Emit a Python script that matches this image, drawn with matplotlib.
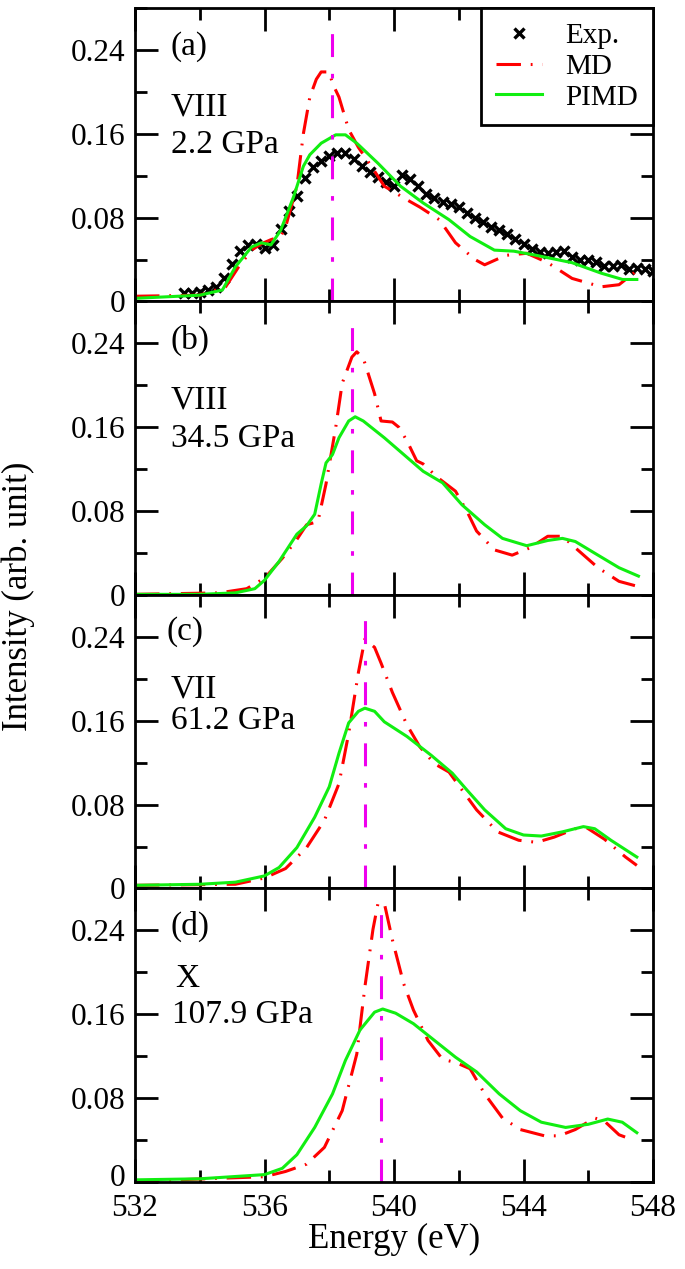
import matplotlib
matplotlib.use('Agg')
import matplotlib.pyplot as plt
import matplotlib.transforms as mtransforms
from matplotlib.ticker import MultipleLocator, FixedLocator, FuncFormatter

plt.rcParams['font.family'] = ['Liberation Serif', 'DejaVu Serif']

# ---- data ----
exp_e = [533.5, 533.75, 534.0, 534.25, 534.5, 534.75, 535.0, 535.25, 535.5, 535.75,
         536.0, 536.25, 536.5, 536.75, 537.0, 537.25, 537.5, 537.75, 538.0, 538.25,
         538.5, 538.75, 539.0, 539.25, 539.5, 539.75, 540.0, 540.25, 540.5, 540.75,
         541.0, 541.25, 541.5, 541.75, 542.0, 542.25, 542.5, 542.75, 543.0, 543.25,
         543.5, 543.75, 544.0, 544.25, 544.5, 544.75, 545.0, 545.25, 545.5, 545.75,
         546.0, 546.25, 546.5, 546.75, 547.0, 547.25, 547.5, 547.75, 548.0]
exp_i = [0.008, 0.008, 0.009, 0.011, 0.014, 0.022, 0.036, 0.048, 0.054, 0.055,
         0.051, 0.054, 0.069, 0.086, 0.101, 0.118, 0.128, 0.134, 0.139, 0.142,
         0.142, 0.136, 0.129, 0.124, 0.119, 0.114, 0.110, 0.121, 0.117, 0.110,
         0.103, 0.099, 0.095, 0.093, 0.090, 0.084, 0.080, 0.076, 0.071, 0.068,
         0.064, 0.060, 0.055, 0.050, 0.047, 0.046, 0.047, 0.048, 0.042, 0.040,
         0.040, 0.038, 0.034, 0.034, 0.035, 0.031, 0.032, 0.031, 0.029]

# panel (a) VIII 2.2 GPa
md_a_e = [532.0, 534.0, 534.8, 535.2, 535.6, 535.9, 536.2, 536.5, 536.65, 537.0,
          537.2, 537.4, 537.6, 537.75, 538.0, 538.1, 538.3, 538.6, 538.9, 539.3,
          539.7, 540.4, 540.8, 541.4, 541.9, 542.5, 542.8, 543.45, 544.1, 544.75,
          545.5, 546.4, 546.95, 547.4, 547.5]
md_a_i = [0.005, 0.006, 0.014, 0.033, 0.049, 0.055, 0.059, 0.062, 0.071, 0.110,
          0.160, 0.195, 0.212, 0.219, 0.219, 0.208, 0.195, 0.164, 0.147, 0.129,
          0.110, 0.097, 0.090, 0.078, 0.056, 0.040, 0.035, 0.044, 0.046, 0.037,
          0.022, 0.014, 0.016, 0.027, 0.030]
pimd_a_e = [532.0, 534.0, 534.7, 535.1, 535.6, 535.9, 536.2, 536.5, 536.9, 537.2,
            537.4, 537.75, 538.2, 538.5, 538.85, 539.5, 540.2, 540.9, 541.7, 542.35,
            543.1, 543.7, 544.4, 545.5, 546.4, 547.06, 547.5]
pimd_a_i = [0.003, 0.006, 0.011, 0.033, 0.052, 0.056, 0.054, 0.068, 0.100, 0.129,
            0.140, 0.151, 0.159, 0.159, 0.151, 0.132, 0.110, 0.094, 0.078, 0.062,
            0.049, 0.048, 0.044, 0.037, 0.027, 0.021, 0.021]

# panel (b) VIII 34.5 GPa
md_b_e = [532.0, 534.6, 535.45, 536.0, 536.55, 537.0, 537.3, 537.65, 537.9, 538.2,
          538.4, 538.7, 538.85, 539.05, 539.4, 539.6, 539.95, 540.15, 540.4, 540.7,
          540.9, 541.35, 541.9, 542.25, 542.55, 543.1, 543.65, 544.2, 544.75, 545.2,
          545.6, 546.3, 546.95, 547.55]
md_b_i = [0.0006, 0.002, 0.006, 0.016, 0.035, 0.053, 0.067, 0.070, 0.106, 0.160,
          0.202, 0.227, 0.232, 0.226, 0.192, 0.166, 0.165, 0.160, 0.147, 0.128,
          0.125, 0.112, 0.099, 0.080, 0.061, 0.043, 0.038, 0.045, 0.056, 0.056,
          0.045, 0.026, 0.013, 0.008]
pimd_b_e = [532.0, 534.0, 535.1, 535.7, 536.0, 536.45, 537.0, 537.3, 537.55, 537.75,
            537.9, 538.1, 538.3, 538.6, 538.8, 539.05, 539.7, 540.6, 540.9, 541.5,
            542.1, 542.8, 543.35, 544.1, 544.75, 545.2, 545.6, 546.3, 546.95, 547.55]
pimd_b_i = [0.0006, 0.0006, 0.002, 0.006, 0.014, 0.032, 0.058, 0.066, 0.077, 0.106,
            0.126, 0.134, 0.150, 0.166, 0.170, 0.166, 0.150, 0.126, 0.118, 0.107,
            0.086, 0.067, 0.054, 0.047, 0.052, 0.054, 0.051, 0.038, 0.026, 0.018]

# panel (c) VII 61.2 GPa
md_c_e = [532.0, 535.1, 536.0, 536.65, 537.3, 537.85, 538.3, 538.6, 538.9, 539.1,
          539.4, 539.6, 539.95, 540.4, 540.8, 541.25, 541.7, 542.1, 542.55, 543.2,
          543.85, 544.4, 544.95, 545.6, 545.95, 546.5, 547.15, 547.5]
md_c_i = [0.003, 0.004, 0.010, 0.019, 0.039, 0.065, 0.100, 0.148, 0.206, 0.238,
          0.230, 0.215, 0.187, 0.156, 0.135, 0.119, 0.111, 0.094, 0.075, 0.054,
          0.046, 0.044, 0.049, 0.057, 0.058, 0.047, 0.030, 0.022]
pimd_c_e = [532.0, 534.0, 535.1, 536.0, 536.45, 537.0, 537.55, 538.0, 538.3, 538.6,
            538.9, 539.1, 539.4, 539.7, 540.4, 541.15, 541.8, 542.25, 542.8, 543.45,
            544.0, 544.55, 545.2, 545.85, 546.2, 546.7, 547.5]
pimd_c_i = [0.003, 0.004, 0.006, 0.012, 0.020, 0.039, 0.068, 0.097, 0.129, 0.158,
            0.169, 0.172, 0.169, 0.159, 0.145, 0.127, 0.110, 0.094, 0.075, 0.057,
            0.051, 0.050, 0.054, 0.059, 0.057, 0.046, 0.030]

# panel (d) X 107.9 GPa
md_d_e = [532.0, 536.0, 536.65, 537.3, 537.85, 538.4, 538.85, 539.1, 539.35, 539.5,
          539.7, 539.95, 540.3, 540.6, 541.05, 541.5, 541.9, 542.35, 542.8, 543.35,
          543.9, 544.65, 545.1, 545.6, 546.2, 546.5, 546.95, 547.3]
md_d_i = [0.0006, 0.005, 0.010, 0.017, 0.033, 0.068, 0.122, 0.186, 0.241, 0.265,
          0.266, 0.231, 0.189, 0.164, 0.135, 0.117, 0.114, 0.108, 0.084, 0.061,
          0.050, 0.044, 0.044, 0.050, 0.061, 0.058, 0.045, 0.041]
pimd_d_e = [532.0, 534.0, 536.0, 536.55, 537.0, 537.55, 538.1, 538.5, 538.95, 539.4,
            539.65, 540.05, 540.6, 541.25, 541.9, 542.55, 543.25, 543.9, 544.55, 545.3,
            546.0, 546.6, 547.05, 547.5]
pimd_d_i = [0.002, 0.003, 0.007, 0.013, 0.026, 0.052, 0.084, 0.116, 0.145, 0.162,
            0.165, 0.161, 0.151, 0.135, 0.119, 0.105, 0.084, 0.068, 0.057, 0.052,
            0.055, 0.060, 0.057, 0.047]

peak_energy = [538.1, 538.7, 539.1, 539.6]
peak_top = 0.265
y_ticks = [0, 0.08, 0.16, 0.24]
panel_tags = ['(a)', '(b)', '(c)', '(d)']
phases = ['VIII', 'VIII', 'VII', 'X']
pressures = ['2.2 GPa', '34.5 GPa', '61.2 GPa', '107.9 GPa']

md_sets = [(md_a_e, md_a_i), (md_b_e, md_b_i), (md_c_e, md_c_i), (md_d_e, md_d_i)]
pimd_sets = [(pimd_a_e, pimd_a_i), (pimd_b_e, pimd_b_i), (pimd_c_e, pimd_c_i), (pimd_d_e, pimd_d_i)]

red = '#ff0000'
green = '#11ee11'
magenta = '#ee00ee'

# label positions in axes fraction per panel
tag_y = [0.868, 0.868, 0.875, 0.872]
phase_y = [0.662, 0.662, 0.679, 0.693]
press_y = [0.534, 0.532, 0.571, 0.569]
tag_x = [0.068, 0.068, 0.060, 0.068]
phase_x = [0.069, 0.069, 0.069, 0.077]
press_x = [0.069, 0.069, 0.069, 0.072]

fig = plt.figure(figsize=(6.85, 12.69), dpi=100)
gs = fig.add_gridspec(4, 1, left=0.1971, right=0.9533, top=0.9937, bottom=0.0686, hspace=0)
axes = [fig.add_subplot(gs[0])]
for k in range(1, 4):
    axes.append(fig.add_subplot(gs[k], sharex=axes[0]))

yfmt = FuncFormatter(lambda v, p: '0' if abs(v) < 1e-9 else '%.2f' % v)

for k, ax in enumerate(axes):
    if k == 0:
        ax.plot(exp_e, exp_i, linestyle='none', marker='x', color='black',
                markersize=6.5, markeredgewidth=2.4, label='Exp.')
    ax.plot(*md_sets[k], color=red, lw=2.2, linestyle=(0, (8, 3.2, 0.6, 3.2)), label='MD')
    ax.plot(*pimd_sets[k], color=green, lw=2.2, label='PIMD')
    ax.vlines(peak_energy[k], 0, peak_top, color=magenta, lw=2.2,
              linestyle=(0, (7.5, 5.5, 1.5, 5.5)))

    ax.set_xlim(532, 548)
    ax.set_ylim(0, 0.28)
    ax.xaxis.set_major_locator(MultipleLocator(4))
    ax.xaxis.set_minor_locator(MultipleLocator(2))
    ax.yaxis.set_major_locator(FixedLocator(y_ticks))
    ax.yaxis.set_minor_locator(MultipleLocator(0.04))
    ax.yaxis.set_major_formatter(yfmt)
    ax.tick_params(which='both', direction='in', top=True, right=True, width=2)
    ax.tick_params(which='major', length=16.5, labelsize=22.5, pad=7)
    ax.tick_params(axis='x', which='major', pad=9)
    ax.tick_params(which='minor', length=8.5)
    for s in ax.spines.values():
        s.set_linewidth(2)
    if k < 3:
        ax.tick_params(labelbottom=False)

    ax.text(tag_x[k], tag_y[k], panel_tags[k], transform=ax.transAxes, fontsize=24,
            ha='left', va='center')
    ax.text(phase_x[k], phase_y[k], phases[k], transform=ax.transAxes,
            fontsize=24, ha='left', va='center')
    ax.text(press_x[k], press_y[k], pressures[k], transform=ax.transAxes, fontsize=24,
            ha='left', va='center')

leg = axes[0].legend(loc='upper right', bbox_to_anchor=(1.0, 1.0), borderaxespad=0.0,
                     fontsize=21, frameon=True, fancybox=False, framealpha=1,
                     edgecolor='black', handlelength=1.6, labelspacing=0.15,
                     handletextpad=0.8, borderpad=0.5)
leg.get_frame().set_linewidth(2)

axes[3].set_xlabel('Energy (eV)', fontsize=25, labelpad=0)
fig.text(0.027, 0.53, 'Intensity (arb. unit)', rotation=90, fontsize=25,
         ha='center', va='center')

# nudge the bottom panel's "0" up a little so it clears the "532" label
fig.canvas.draw()
zero_lab = axes[3].yaxis.get_major_ticks()[0].label1
zero_lab.set_transform(zero_lab.get_transform() +
                       mtransforms.ScaledTranslation(0, 5 / 72, fig.dpi_scale_trans))

fig.savefig('out.png', dpi=100)
